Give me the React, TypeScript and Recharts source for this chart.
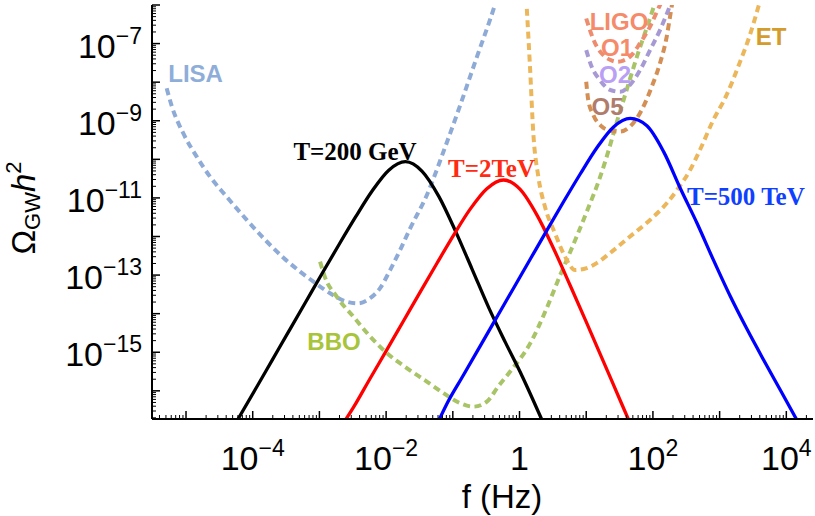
import React from 'react';
import { LineChart, Line, XAxis, YAxis, ReferenceDot } from 'recharts';

// All values are log10(f / Hz) and log10(Omega_GW h^2).
const t200LogF = [-4.22, -3.96, -3.71, -3.46, -3.21, -2.96, -2.71, -2.46, -2.21, -1.96, -1.71, -1.46, -1.21, -0.96, -0.71, -0.46, -0.21, 0.04, 0.33];
const t200LogOmega = [-16.73, -15.96, -15.21, -14.46, -13.71, -12.96, -12.22, -11.5, -10.82, -10.28, -10.06, -10.31, -10.96, -11.86, -12.85, -13.85, -14.75, -15.62, -16.73];

const t2LogF = [-2.6, -2.49, -2.24, -1.99, -1.74, -1.49, -1.24, -0.99, -0.74, -0.49, -0.24, 0.01, 0.26, 0.51, 0.76, 1.01, 1.26, 1.51, 1.63];
const t2LogOmega = [-16.73, -16.43, -15.68, -14.94, -14.19, -13.44, -12.7, -11.97, -11.29, -10.76, -10.535, -10.78, -11.44, -12.31, -13.27, -14.25, -15.25, -16.25, -16.73];

const t500LogF = [-1.2, -1.09, -0.84, -0.59, -0.34, -0.09, 0.16, 0.41, 0.66, 0.91, 1.16, 1.41, 1.66, 1.91, 2.16, 2.41, 2.66, 2.91, 3.16, 3.41, 3.66, 3.91, 4.15];
const t500LogOmega = [-16.73, -16.34, -15.59, -14.84, -14.09, -13.34, -12.59, -11.84, -11.1, -10.38, -9.7, -9.16, -8.94, -9.13, -9.8, -10.75, -11.65, -12.62, -13.55, -14.4, -15.2, -15.98, -16.73];

const lisaLogF = [-5.29, -5.21, -5.04, -4.84, -4.64, -4.39, -4.09, -3.79, -3.54, -3.29, -3.09, -2.84, -2.59, -2.42, -2.24, -2.09, -1.94, -1.79, -1.64, -1.39, -1.14, -0.89, -0.64, -0.37, -0.3];
const lisaLogOmega = [-8.16, -8.64, -9.33, -9.93, -10.45, -10.97, -11.57, -12.13, -12.55, -12.91, -13.17, -13.47, -13.69, -13.73, -13.6, -13.34, -12.87, -12.35, -11.79, -10.93, -9.8, -8.6, -7.35, -6.0, -5.6];

const bboLogF = [-2.99, -2.92, -2.74, -2.49, -2.24, -1.99, -1.69, -1.39, -1.14, -0.89, -0.69, -0.49, -0.32, -0.14, 0.16, 0.41, 0.61, 0.76, 1.01, 1.21, 1.33, 1.43, 1.58, 1.76, 1.98, 2.04];
const bboLogOmega = [-12.65, -13.04, -13.56, -14.08, -14.59, -15.02, -15.41, -15.76, -16.06, -16.32, -16.41, -16.28, -15.89, -15.5, -14.77, -13.85, -13.0, -12.4, -11.35, -10.45, -9.8, -9.2, -8.35, -7.34, -6.22, -5.9];

const etLogF = [0.1, 0.108, 0.157, 0.207, 0.282, 0.382, 0.532, 0.682, 0.832, 1.007, 1.157, 1.357, 1.657, 1.957, 2.207, 2.38, 2.55, 2.72, 2.9, 3.1, 3.3, 3.45, 3.58, 3.62];
const etLogOmega = [-5.8, -6.05, -7.6, -9.33, -10.45, -11.23, -11.92, -12.52, -12.87, -12.82, -12.69, -12.43, -12.0, -11.57, -11.14, -10.75, -10.3, -9.7, -9.0, -8.35, -7.5, -6.8, -6.05, -5.8];

const o1LogF = [1.0, 1.132, 1.256, 1.357, 1.457, 1.557, 1.657, 1.807, 1.957, 2.106, 2.15];
const o1LogOmega = [-6.35, -6.99, -7.3, -7.42, -7.47, -7.44, -7.34, -6.99, -6.56, -6.0, -5.85];

const o2LogF = [1.0, 1.082, 1.207, 1.357, 1.507, 1.657, 1.807, 1.957, 2.106, 2.231, 2.27];
const o2LogOmega = [-7.17, -7.6, -7.95, -8.2, -8.25, -8.07, -7.69, -7.17, -6.65, -6.13, -5.95];

const o5LogF = [1.0, 1.03, 1.106, 1.232, 1.37, 1.507, 1.657, 1.832, 1.982, 2.106, 2.207, 2.256, 2.29];
const o5LogOmega = [-7.99, -8.46, -8.85, -9.15, -9.26, -9.28, -9.15, -8.72, -8.12, -7.51, -6.82, -6.31, -5.95];

// Annotation texts and where they sit (data coordinates)
const labelText = ['LISA', 'BBO', 'LIGO', 'O1', 'O2', 'O5', 'ET', 'T=200 GeV', 'T=2TeV', 'T=500 TeV'];
const labelLogF = [-4.857, -2.781, 1.492, 1.462, 1.432, 1.319, 3.771, -2.466, -0.42, 3.393];
const labelLogOmega = [-7.764, -14.718, -6.43, -7.1, -7.8, -8.619, -6.82, -9.784, -10.24, -10.95];

// Axis ticks
const xLabelDecades = [-4, -2, 0, 2, 4];
const yLabelDecades = [-15, -13, -11, -9, -7];
const X_DOMAIN = [-5.51, 4.4];
const Y_DOMAIN = [-16.73, -6.0];

const SANS = "'Liberation Sans', Arial, Helvetica, sans-serif";
const SERIF = "'Liberation Serif', 'Times New Roman', serif";

const zip = (xs: number[], ys: number[]) => xs.map((x, i) => ({ x, y: ys[i] }));

const minorTicks = (lo: number, hi: number) => {
  const out: number[] = [];
  for (let n = Math.floor(lo) - 1; n <= Math.ceil(hi); n++) {
    for (let k = 1; k <= 9; k++) {
      const v = n + Math.log10(k);
      if (v >= lo - 1e-9 && v <= hi + 1e-9) out.push(v);
    }
  }
  return out;
};
const xTicks = minorTicks(X_DOMAIN[0], X_DOMAIN[1]);
const yTicks = minorTicks(Y_DOMAIN[0], Y_DOMAIN[1]);
const isMajor = (v: number) => Math.abs(v - Math.round(v)) < 1e-6;

const TICK_FS = 34;
const SUP_FS = 23;
const SUP_RISE = 14;

const powLabel = (d: number) =>
  d === 0 ? (
    <tspan>1</tspan>
  ) : (
    <>
      <tspan>10</tspan>
      <tspan fontSize={SUP_FS} dy={-SUP_RISE}>{d < 0 ? '\u2212' + Math.abs(d) : String(d)}</tspan>
    </>
  );

const BottomTick = (props: any) => {
  const { x, y, payload } = props;
  const v = payload.value;
  const major = isMajor(v);
  const d = Math.round(v);
  return (
    <g>
      <line x1={x} x2={x} y1={y} y2={y - (major ? 8 : 4)} stroke="#000" strokeWidth={major ? 1.5 : 1} />
      {major && xLabelDecades.includes(d) && (
        <text x={x} y={y + 51} textAnchor="middle" fontSize={TICK_FS} fontFamily={SANS} fill="#000">
          {powLabel(d)}
        </text>
      )}
    </g>
  );
};

const TopTick = (props: any) => {
  const { x, y, payload } = props;
  const major = isMajor(payload.value);
  return <line x1={x} x2={x} y1={y} y2={y + (major ? 8 : 4)} stroke="#000" strokeWidth={major ? 1.5 : 1} />;
};

const LeftTick = (props: any) => {
  const { x, y, payload } = props;
  const v = payload.value;
  const major = isMajor(v);
  const d = Math.round(v);
  return (
    <g>
      <line x1={x} x2={x + (major ? 8 : 4)} y1={y} y2={y} stroke="#000" strokeWidth={major ? 1.5 : 1} />
      {major && yLabelDecades.includes(d) && (
        <text x={x - 10} y={y + 14} textAnchor="end" fontSize={TICK_FS} fontFamily={SANS} fill="#000">
          {powLabel(d)}
        </text>
      )}
    </g>
  );
};

const RightTick = (props: any) => {
  const { x, y, payload } = props;
  const major = isMajor(payload.value);
  return <line x1={x} x2={x - (major ? 8 : 4)} y1={y} y2={y} stroke="#000" strokeWidth={major ? 1.5 : 1} />;
};

const series = [
  { key: 'lisa', data: zip(lisaLogF, lisaLogOmega), color: '#8eaad6', dashed: true },
  { key: 'bbo', data: zip(bboLogF, bboLogOmega), color: '#a8c466', dashed: true },
  { key: 'et', data: zip(etLogF, etLogOmega), color: '#ecb65a', dashed: true },
  { key: 'o5', data: zip(o5LogF, o5LogOmega), color: '#d48f55', dashed: true },
  { key: 'o2', data: zip(o2LogF, o2LogOmega), color: '#a79ad4', dashed: true },
  { key: 'o1', data: zip(o1LogF, o1LogOmega), color: '#ee8c70', dashed: true },
  { key: 't200', data: zip(t200LogF, t200LogOmega), color: '#000000', dashed: false },
  { key: 't2', data: zip(t2LogF, t2LogOmega), color: '#ff0000', dashed: false },
  { key: 't500', data: zip(t500LogF, t500LogOmega), color: '#0000ff', dashed: false },
];

const labelStyles = [
  { fill: '#8eaed9', font: SANS, size: 24 },
  { fill: '#a8c43a', font: SANS, size: 24 },
  { fill: '#f58b6b', font: SANS, size: 24 },
  { fill: '#f58b6b', font: SANS, size: 24 },
  { fill: '#b9a0f5', font: SANS, size: 24 },
  { fill: '#b07d6c', font: SANS, size: 24 },
  { fill: '#d39c2c', font: SANS, size: 24 },
  { fill: '#000000', font: SERIF, size: 25 },
  { fill: '#ff2a10', font: SERIF, size: 25 },
  { fill: '#1040ff', font: SERIF, size: 25 },
];

const frame = { stroke: '#000', strokeWidth: 2 };

export default function App() {
  return (
    <div style={{ position: 'absolute', left: 0, top: 0, width: 815, height: 516, background: '#fff' }}>
      <LineChart width={815} height={516} margin={{ top: 5, right: 2, bottom: 0, left: 0 }}>
        <XAxis
          xAxisId="b"
          orientation="bottom"
          type="number"
          dataKey="x"
          domain={X_DOMAIN}
          allowDataOverflow
          ticks={xTicks}
          interval={0}
          tick={BottomTick}
          tickLine={false}
          tickSize={0}
          tickMargin={0}
          height={97}
          axisLine={frame}
          label={{
            content: () => (
              <text x={502} y={508} textAnchor="middle" fontSize={33} fontFamily={SANS} fill="#000">
                f (Hz)
              </text>
            ),
          }}
        />
        <XAxis
          xAxisId="t"
          orientation="top"
          type="number"
          dataKey="x"
          domain={X_DOMAIN}
          allowDataOverflow
          ticks={xTicks}
          interval={0}
          tick={TopTick}
          tickLine={false}
          tickSize={0}
          tickMargin={0}
          height={0}
          axisLine={frame}
        />
        <YAxis
          yAxisId="l"
          orientation="left"
          type="number"
          dataKey="y"
          domain={Y_DOMAIN}
          allowDataOverflow
          ticks={yTicks}
          interval={0}
          tick={LeftTick}
          tickLine={false}
          tickSize={0}
          tickMargin={0}
          width={152}
          axisLine={frame}
          label={{
            content: () => (
              <text
                x={35}
                y={208}
                transform="rotate(-90, 35, 208)"
                textAnchor="middle"
                fontSize={33}
                fontFamily={SANS}
                fill="#000"
              >
                <tspan>Ω</tspan>
                <tspan fontSize={22} dy={5}>GW</tspan>
                <tspan fontStyle="italic" dy={-5}>h</tspan>
                <tspan fontSize={22} dy={-14}>2</tspan>
              </text>
            ),
          }}
        />
        <YAxis
          yAxisId="r"
          orientation="right"
          type="number"
          dataKey="y"
          domain={Y_DOMAIN}
          allowDataOverflow
          ticks={yTicks}
          interval={0}
          tick={RightTick}
          tickLine={false}
          tickSize={0}
          tickMargin={0}
          width={0}
          axisLine={frame}
        />
        {series.map((s) => (
          <Line
            key={s.key}
            xAxisId="b"
            yAxisId="l"
            data={s.data}
            dataKey="y"
            type="monotone"
            stroke={s.color}
            strokeWidth={s.dashed ? 4 : 3.3}
            strokeDasharray={s.dashed ? '7 4.5' : undefined}
            dot={false}
            activeDot={false}
            isAnimationActive={false}
          />
        ))}
        {labelText.map((t, i) => (
          <ReferenceDot
            key={t}
            xAxisId="b"
            yAxisId="l"
            x={labelLogF[i]}
            y={labelLogOmega[i]}
            r={1}
            fill="none"
            stroke="none"
            label={{
              value: t,
              position: 'center',
              fill: labelStyles[i].fill,
              fontSize: labelStyles[i].size,
              fontWeight: 'bold',
              fontFamily: labelStyles[i].font,
            }}
          />
        ))}
      </LineChart>
    </div>
  );
}
